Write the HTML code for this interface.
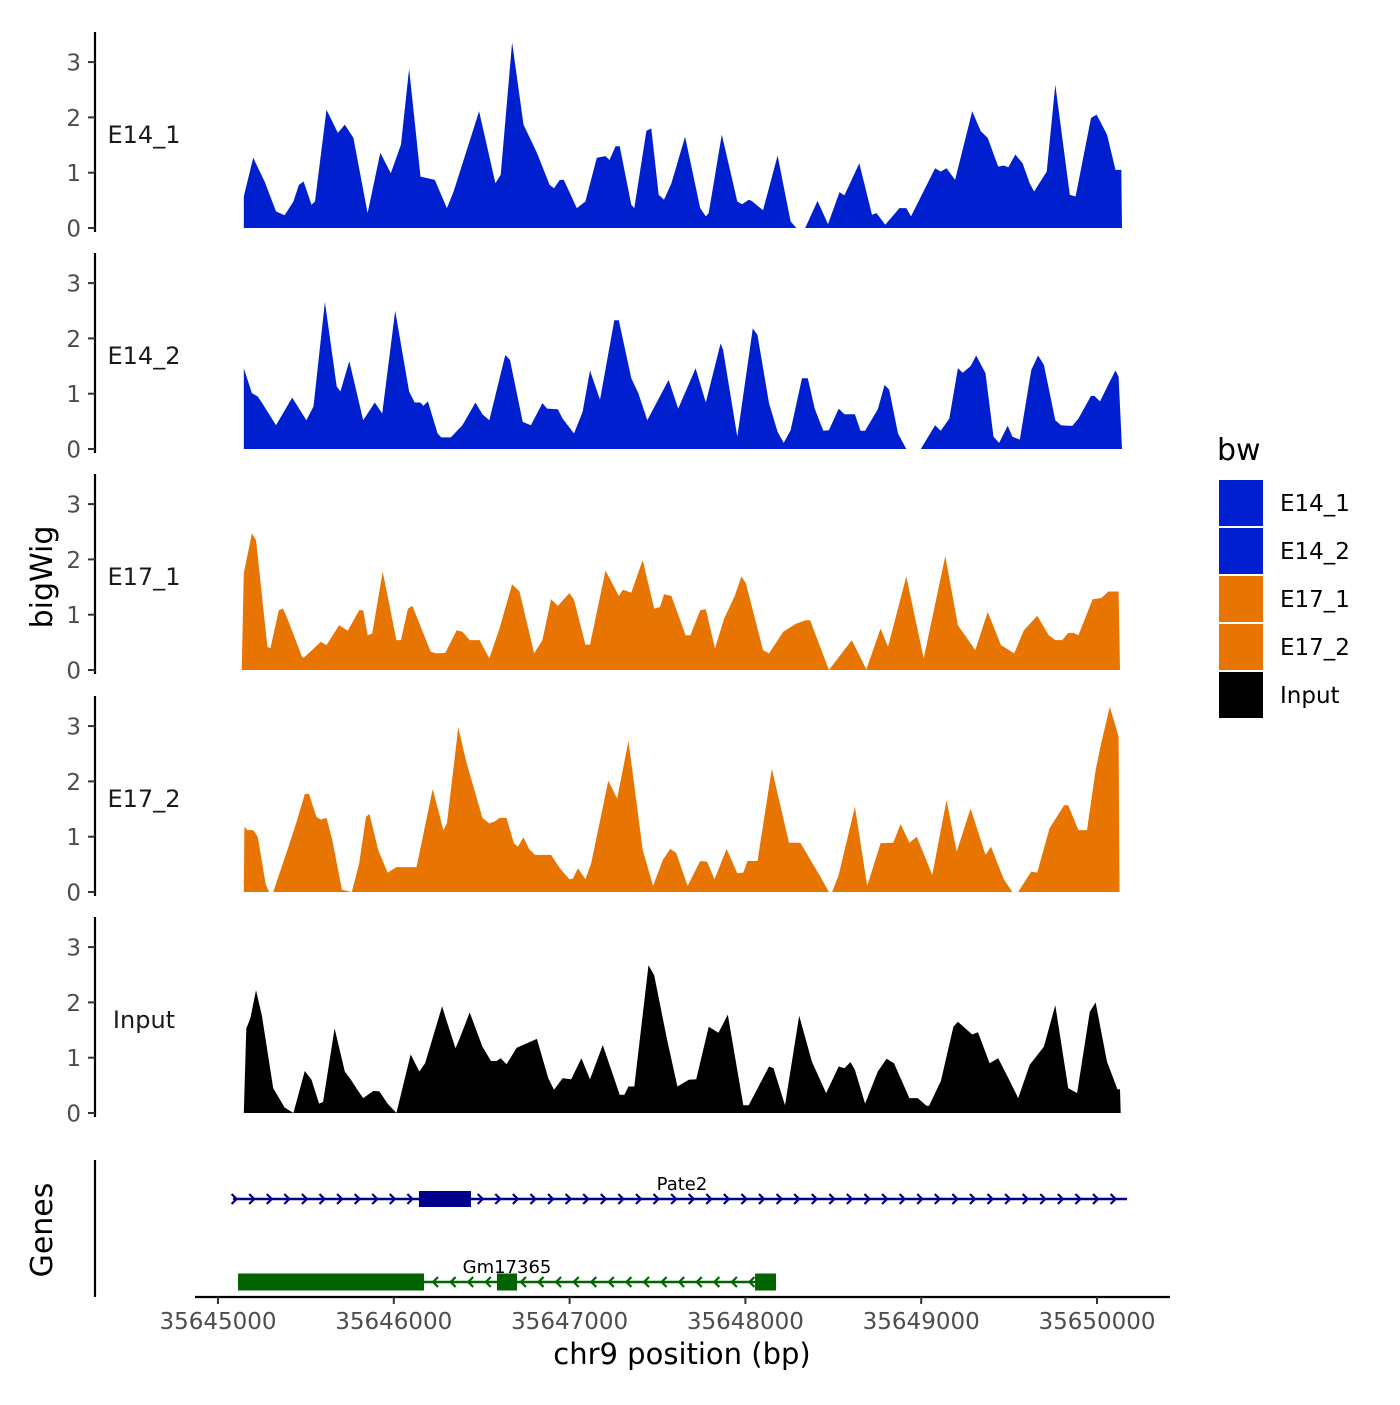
<!DOCTYPE html>
<html><head><meta charset="utf-8"><style>
html,body{margin:0;padding:0;background:#fff;}
svg text{font-family:"DejaVu Sans","Liberation Sans",sans-serif;}
</style></head><body>
<svg id="chart" xmlns="http://www.w3.org/2000/svg" width="1400" height="1400" viewBox="0 0 1400 1400">
<rect width="1400" height="1400" fill="#fff"/>
<g id="panels"></g>
<g id="genes"></g>
<g id="xaxis"></g>
<text x="0" y="0" transform="translate(52,577) rotate(-90)" text-anchor="middle" font-size="30" fill="#000">bigWig</text>
<text x="0" y="0" transform="translate(52,1230) rotate(-90)" text-anchor="middle" font-size="30" fill="#000">Genes</text>
<g>
<text x="1217" y="460" font-size="30" fill="#000">bw</text>
<g id="legendItems"></g>
</g>
</svg>
<script>
const NS="http://www.w3.org/2000/svg";
const START=35645000;
const trackNames=["E14_1","E14_2","E17_1","E17_2","Input"];
const trackColors=["#0020CF","#0020CF","#E87502","#E87502","#000000"];
const yTicks=[0,1,2,3];
const xTicks=[35645000,35646000,35647000,35648000,35649000,35650000];
// positions are bp offsets from 35645000; null marks a gap
const pos1=[147,147,200,265,330,379,429,460,487,532,552,617,682,721,770,851,923,983,1041,1087,1152,1233,1302,1340,1485,1578,1608,1673,1738,1814,1886,1911,1944,1967,2041,2090,2155,2204,2227,2261,2285,2351,2368,2437,2465,2507,2537,2579,2657,2743,2775,2791,2866,2954,2981,3019,3035,3100,3183,3257,3290,null,3340,3410,3470,3535,3563,3648,3720,3746,3796,3876,3915,3942,4079,4111,4144,4193,4290,4339,4378,4438,4470,4496,4535,4577,4617,4642,4714,4763,4845,4878,4966,4998,5057,5105,5138,5142];
const val1=[0,0.57,1.27,0.84,0.30,0.23,0.48,0.78,0.84,0.42,0.48,2.14,1.72,1.87,1.63,0.27,1.36,0.99,1.51,2.88,0.93,0.87,0.36,0.66,2.11,0.81,0.96,3.36,1.87,1.36,0.78,0.72,0.87,0.87,0.36,0.48,1.27,1.30,1.23,1.48,1.48,0.42,0.36,1.76,1.80,0.60,0.51,0.81,1.65,0.36,0.21,0.27,1.69,0.48,0.43,0.51,0.49,0.32,1.31,0.12,0,null,0,0.49,0.07,0.65,0.59,1.17,0.24,0.27,0.06,0.36,0.36,0.21,1.08,1.02,1.08,0.87,2.11,1.75,1.63,1.11,1.13,1.10,1.33,1.17,0.81,0.66,1.02,2.59,0.60,0.57,1.99,2.05,1.69,1.05,1.05,0];
const pos2=[147,147,193,226,249,330,422,503,543,608,675,696,747,826,892,934,1008,1087,1119,1152,1168,1194,1249,1270,1324,1390,1465,1504,1543,1634,1661,1733,1780,1845,1872,1933,1960,2025,2074,2116,2173,2254,2280,2351,2391,2442,2563,2618,2717,2775,2859,2873,2954,3042,3069,3134,3183,3218,3257,3322,3355,3394,3443,3475,3531,3563,3623,3655,3681,3753,3792,3818,3868,3915,null,3998,4079,4111,4160,4209,4236,4281,4313,4366,4411,4443,4492,4519,4561,4626,4665,4698,4763,4795,4836,4860,4894,4966,4985,5017,5073,5105,5123,5142];
const val2=[0,1.46,1.01,0.95,0.84,0.43,0.93,0.52,0.77,2.66,1.13,1.04,1.59,0.52,0.84,0.64,2.50,1.04,0.84,0.84,0.78,0.86,0.28,0.21,0.21,0.43,0.84,0.63,0.52,1.70,1.61,0.49,0.43,0.83,0.73,0.72,0.55,0.28,0.67,1.42,0.89,2.33,2.33,1.28,1.01,0.52,1.25,0.73,1.46,0.84,1.91,1.79,0.22,2.18,2.06,0.83,0.31,0.11,0.34,1.28,1.28,0.73,0.33,0.34,0.73,0.63,0.63,0.33,0.33,0.72,1.16,1.07,0.28,0,null,0,0.43,0.33,0.55,1.46,1.38,1.50,1.69,1.37,0.22,0.11,0.42,0.22,0.17,1.43,1.69,1.52,0.52,0.43,0.42,0.42,0.55,0.96,0.96,0.86,1.22,1.42,1.31,0];
const pos3=[135,147,193,216,281,298,346,369,395,478,487,525,585,617,689,738,803,826,851,877,937,1015,1041,1080,1106,1210,1243,1293,1358,1390,1432,1488,1543,1601,1673,1715,1798,1845,1895,1933,1999,2025,2090,2116,2204,2280,2303,2351,2416,2481,2514,2537,2579,2660,2687,2743,2775,2827,2879,2938,2977,3003,3100,3134,3215,3290,3345,3368,3475,3605,3688,3769,3811,3915,4014,4137,4209,4308,4378,4454,4529,4584,4660,4725,4763,4802,4836,4867,4894,4975,5024,5066,5123,5131];
const val3=[0,1.75,2.47,2.35,0.42,0.39,1.08,1.11,0.93,0.24,0.22,0.33,0.51,0.45,0.81,0.71,1.08,1.08,0.63,0.66,1.78,0.54,0.54,1.11,1.16,0.33,0.30,0.31,0.72,0.69,0.54,0.54,0.21,0.75,1.55,1.42,0.30,0.54,1.28,1.16,1.39,1.27,0.46,0.46,1.80,1.34,1.45,1.40,1.99,1.11,1.14,1.37,1.34,0.63,0.63,1.08,1.10,0.39,0.93,1.33,1.69,1.57,0.36,0.30,0.69,0.84,0.90,0.90,0,0.54,0.01,0.75,0.42,1.69,0.21,2.06,0.81,0.36,1.05,0.45,0.30,0.72,0.98,0.63,0.54,0.54,0.67,0.67,0.63,1.28,1.30,1.42,1.42,0];
const pos4=[147,150,168,200,226,272,291,314,395,444,494,517,559,585,617,650,705,761,803,842,862,911,965,1015,1129,1221,1282,1302,1367,1412,1504,1543,1576,1601,1641,1683,1706,1738,1771,1803,1895,1944,1999,2018,2048,2090,2123,2220,2270,2335,2416,2475,2530,2572,2606,2671,2743,2782,2824,2893,2954,2988,3012,3069,3150,3248,3313,3428,3475,3493,3531,3623,3693,3769,3841,3883,3933,3975,4063,4144,4202,4281,4366,4397,4470,4519,4551,4626,4660,4730,4813,4836,4894,4943,4992,5024,5073,5123,5128];
const val4=[0,1.18,1.12,1.12,1.00,0.13,0,0,0.76,1.24,1.77,1.78,1.36,1.31,1.34,0.94,0.04,0,0.52,1.36,1.41,0.76,0.35,0.45,0.45,1.86,1.12,1.24,2.98,2.36,1.34,1.24,1.28,1.34,1.34,0.88,0.82,0.99,0.77,0.67,0.67,0.43,0.23,0.24,0.43,0.23,0.52,2.01,1.69,2.73,0.76,0.11,0.58,0.78,0.71,0.11,0.56,0.55,0.23,0.78,0.34,0.35,0.56,0.56,2.23,0.89,0.89,0.27,0,0,0.31,1.54,0.11,0.88,0.89,1.23,0.89,1.00,0.31,1.66,0.73,1.51,0.67,0.82,0.23,0,0,0.37,0.35,1.15,1.57,1.57,1.12,1.12,2.20,2.69,3.35,2.81,0];
const pos5=[147,161,184,216,249,314,379,429,494,532,575,598,663,721,754,793,826,884,918,965,1015,1096,1145,1178,1275,1302,1351,1374,1432,1504,1553,1585,1608,1641,1699,1764,1814,1879,1911,1960,2009,2067,2116,2189,2285,2312,2335,2368,2449,2481,2553,2613,2678,2720,2791,2847,2900,2988,3019,3134,3160,3225,3306,3378,3459,3531,3563,3597,3623,3681,3753,3803,3845,3933,3980,4030,4045,4112,4183,4209,4290,4323,4389,4438,4496,4552,4617,4698,4763,4836,4887,4959,4992,5057,5116,5131,5135];
const val5=[0,1.53,1.71,2.22,1.77,0.45,0.10,0,0.76,0.60,0.17,0.20,1.53,0.75,0.61,0.42,0.27,0.40,0.39,0.17,0,1.06,0.75,0.90,1.93,1.65,1.17,1.34,1.82,1.20,0.94,0.94,0.99,0.88,1.18,1.27,1.34,0.63,0.42,0.63,0.61,0.99,0.61,1.23,0.33,0.33,0.48,0.48,2.67,2.49,1.35,0.48,0.60,0.61,1.56,1.45,1.78,0.14,0.14,0.84,0.81,0.14,1.76,0.93,0.36,0.84,0.81,0.92,0.78,0.17,0.75,0.98,0.90,0.27,0.27,0.13,0.13,0.58,1.56,1.65,1.42,1.46,0.90,0.99,0.63,0.27,0.87,1.20,1.95,0.45,0.36,1.83,2.00,0.93,0.43,0.43,0];
const seriesPos=[pos1,pos2,pos3,pos4,pos5];
const seriesVal=[val1,val2,val3,val4,val5];
// gene models (bp offsets)
const pate2Span=[85,5171];
const pate2Exons=[[1143,1439]];
const gmSpan=[114,3174];
const gmExons=[[114,1172],[1587,1701],[3055,3174]];

const PX_PER_BP=0.1758, X0=218;
function x(off){return X0+off*PX_PER_BP;}
const baselines=[228,449,670,892,1113];
const PX_PER_UNIT=55.3;
function y(panel,v){return baselines[panel]-v*PX_PER_UNIT;}

function mk(tag,attrs,parent){const e=document.createElementNS(NS,tag);for(const k in attrs)e.setAttribute(k,attrs[k]);parent.appendChild(e);return e;}
const panels=document.getElementById('panels');
for(let p=0;p<5;p++){
  const g=mk('g',{},panels);
  
  
  const P=seriesPos[p],V=seriesVal[p];
  let d='',seg=[];
  const flush=()=>{if(seg.length){d+='M'+x(seg[0][0]).toFixed(1)+','+y(p,0);for(const s of seg)d+='L'+x(s[0]).toFixed(1)+','+y(p,s[1]).toFixed(1);d+='L'+x(seg[seg.length-1][0]).toFixed(1)+','+y(p,0)+'Z';}seg=[];};
  for(let i=0;i<P.length;i++){if(V[i]===null||P[i]===null){flush();}else seg.push([P[i],V[i]]);}
  flush();
  const area=mk('path',{d:d,fill:trackColors[p]},g);
  
  
  const top=baselines[p]-196;
  const ax=mk('line',{x1:95,x2:95,y1:top,y2:baselines[p]+4,stroke:'#000','stroke-width':2.2},g);
  
  
  for(const t of yTicks){
    const tk=mk('line',{x1:88,x2:95,y1:y(p,t),y2:y(p,t),stroke:'#333','stroke-width':2},g);
    
    
    const tl=mk('text',{x:81,y:y(p,t)+8.5,'text-anchor':'end','font-size':23,fill:'#4d4d4d'},g);
    tl.textContent=t;
    
    
  }
  const lab=mk('text',{x:144,y:baselines[p]-85,'text-anchor':'middle','font-size':24,fill:'#1a1a1a'},g);
  lab.textContent=trackNames[p];
  
  
}
// genes
const genes=document.getElementById('genes');
const gax=mk('line',{x1:95,x2:95,y1:1160,y2:1297,stroke:'#000','stroke-width':2.2},genes);


function drawGene(span,exons,yc,color,dir,name,labelX,labelY,h){
  const g=mk('g',{},genes);
  
  
  mk('line',{x1:x(span[0]),x2:x(span[1]),y1:yc,y2:yc,stroke:color,'stroke-width':2.5},g);
  for(let o=span[0]+15;o<=span[1];o+=100){
    const px=x(o);
    const pts=dir>0?`${px-4},${yc-5} ${px+1},${yc} ${px-4},${yc+5}`:`${px+4},${yc-5} ${px-1},${yc} ${px+4},${yc+5}`;
    mk('polyline',{points:pts,fill:'none',stroke:color,'stroke-width':2.2},g);
  }
  for(const e of exons){
    const r=mk('rect',{x:x(e[0]),y:yc-h/2,width:x(e[1])-x(e[0]),height:h,fill:color},g);
    
    
  }
  const t=mk('text',{x:labelX,y:labelY,'text-anchor':'middle','font-size':18,fill:'#000'},g);
  t.textContent=name;
  
  
}
drawGene(pate2Span,pate2Exons,1199,'#00008B',1,'Pate2',682,1190,16);
drawGene(gmSpan,gmExons,1282,'#006400',-1,'Gm17365',507,1273,17);
// x axis
const xa=document.getElementById('xaxis');
const xl=mk('line',{x1:195,x2:1170,y1:1297,y2:1297,stroke:'#000','stroke-width':2.2},xa);


for(const t of xTicks){
  const px=x(t-START);
  const tk=mk('line',{x1:px,x2:px,y1:1297,y2:1304,stroke:'#333','stroke-width':2},xa);
  
  
  const tl=mk('text',{x:px,y:1329,'text-anchor':'middle','font-size':23,fill:'#4d4d4d'},xa);
  tl.textContent=t;
  
  
}
const xt=mk('text',{x:682,y:1364,'text-anchor':'middle','font-size':29,fill:'#000'},xa);
xt.textContent='chr9 position (bp)';


// legend
const li=document.getElementById('legendItems');
for(let i=0;i<5;i++){
  const g=mk('g',{},li);
  
  
  mk('rect',{x:1219,y:480+i*48,width:44,height:46,fill:trackColors[i]},g);
  const t=mk('text',{x:1280,y:511+i*48,'font-size':23,fill:'#000'},g);
  t.textContent=trackNames[i];
}
</script>
</body></html>
